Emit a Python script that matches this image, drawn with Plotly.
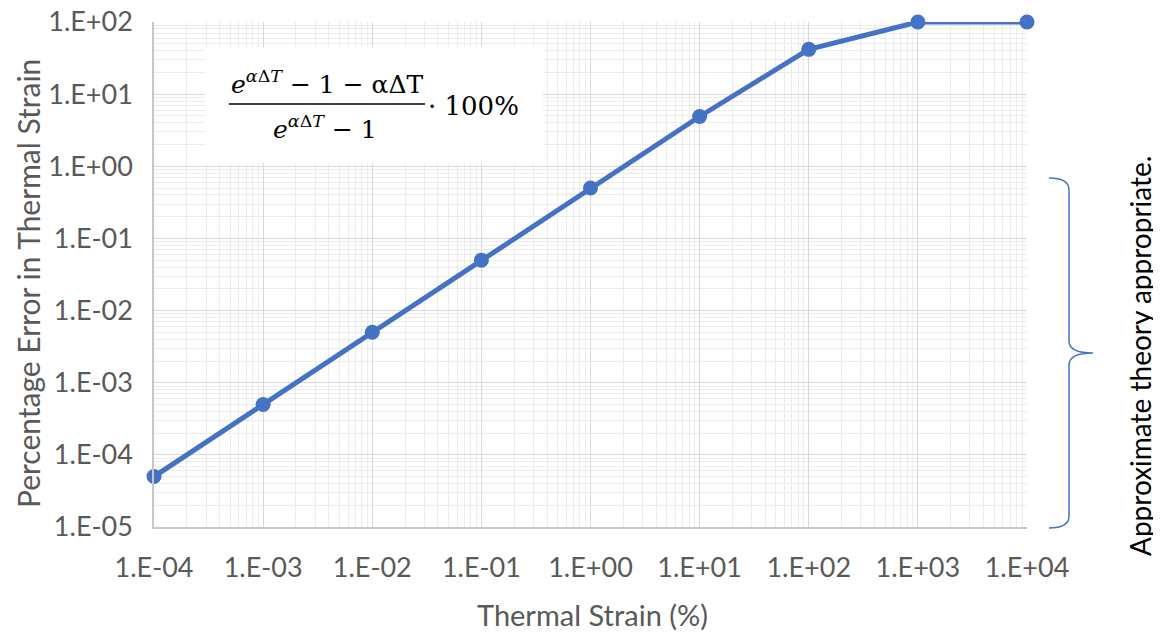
import plotly.graph_objects as go

# ---- data ----
strain_pct = [1e-4, 1e-3, 1e-2, 1e-1, 1e0, 1e1, 1e2, 1e3, 1e4]
error_pct = [5.0e-5, 5.0e-4, 5.0e-3, 5.0e-2, 0.5, 4.9, 41.8, 99.95, 100.0]
x_tickvals = [1e-4, 1e-3, 1e-2, 1e-1, 1e0, 1e1, 1e2, 1e3, 1e4]
x_ticktext = ["1.E-04", "1.E-03", "1.E-02", "1.E-01", "1.E+00", "1.E+01", "1.E+02", "1.E+03", "1.E+04"]
y_tickvals = [1e-5, 1e-4, 1e-3, 1e-2, 1e-1, 1e0, 1e1, 1e2]
y_ticktext = ["1.E-05", "1.E-04", "1.E-03", "1.E-02", "1.E-01", "1.E+00", "1.E+01", "1.E+02"]

OFF = 8  # page body margin
W, H = 1161 - OFF, 632 - OFF
# plot area, in screenshot pixels
SL, SR, ST, SB = 154, 1027, 22, 527
L, R, T, B = SL - OFF, SR - OFF, ST - OFF, SB - OFF


def px(x):
    """screenshot x pixel -> paper coordinate"""
    return (x - SL) / (SR - SL)


def py(y):
    """screenshot y pixel -> paper coordinate"""
    return (SB - y) / (SB - ST)


BLUE = "#4472c4"
GREY = "#595959"
FONT = "Lato"

fig = go.Figure()
fig.add_trace(go.Scatter(
    x=strain_pct, y=error_pct, mode="lines+markers",
    line=dict(color=BLUE, width=5),
    marker=dict(color=BLUE, size=15),
    cliponaxis=False, showlegend=False,
))

fig.update_layout(
    width=W, height=H,
    margin=dict(l=L, r=W - R, t=T, b=H - B, autoexpand=False),
    paper_bgcolor="white", plot_bgcolor="white",
    font=dict(family=FONT, color=GREY),
)

fig.update_xaxes(
    type="log", range=[-4, 4], automargin=False,
    tickvals=x_tickvals, ticktext=x_ticktext,
    tickfont=dict(size=27, color=GREY, family=FONT),
    ticklabeloverflow="allow",
    showgrid=True, gridcolor="#d9d9d9", gridwidth=1.3,
    minor=dict(dtick="D1", showgrid=True, gridcolor="#ececec", gridwidth=1),
    showline=True, linecolor="#c8c8c8", linewidth=1.5,
    zeroline=False, ticks="", ticklabelstandoff=16,
)
fig.update_yaxes(
    type="log", range=[-5, 2], automargin=False,
    tickvals=y_tickvals, ticktext=y_ticktext,
    tickfont=dict(size=27, color=GREY, family=FONT),
    ticklabeloverflow="allow",
    showgrid=True, gridcolor="#d9d9d9", gridwidth=1.3,
    minor=dict(dtick="D1", showgrid=True, gridcolor="#ececec", gridwidth=1),
    showline=True, linecolor="#c8c8c8", linewidth=1.5,
    zeroline=False, ticks="", ticklabelstandoff=14,
)

# axis titles
fig.add_annotation(xref="paper", yref="paper", x=px(592), y=py(614),
                   text="Thermal Strain (%)", showarrow=False,
                   font=dict(size=29, color=GREY, family=FONT),
                   xanchor="center", yanchor="middle")
fig.add_annotation(xref="paper", yref="paper", x=px(28), y=py(284),
                   text="Percentage Error in Thermal Strain", showarrow=False,
                   textangle=-90, font=dict(size=30, color=GREY, family=FONT),
                   xanchor="center", yanchor="middle")

# formula box
fig.add_shape(type="rect", xref="paper", yref="paper",
              x0=px(205), x1=px(543), y0=py(163), y1=py(47),
              fillcolor="white", line=dict(width=0), layer="above")
# fraction bar
fig.add_shape(type="line", xref="paper", yref="paper",
              x0=px(229), x1=px(425), y0=py(104), y1=py(104),
              line=dict(color="black", width=1.6), layer="above")

SERIF = "DejaVu Serif"
fig.add_annotation(xref="paper", yref="paper", x=px(327), y=py(82),
                   text="<i>e</i><sup><i>α</i>Δ<i>T</i></sup> − 1 − αΔT",
                   showarrow=False, font=dict(family=SERIF, size=25, color="black"),
                   xanchor="center", yanchor="middle")
fig.add_annotation(xref="paper", yref="paper", x=px(325), y=py(128),
                   text="<i>e</i><sup><i>α</i>Δ<i>T</i></sup> − 1",
                   showarrow=False, font=dict(family=SERIF, size=25, color="black"),
                   xanchor="center", yanchor="middle")
fig.add_annotation(xref="paper", yref="paper", x=px(426), y=py(106),
                   text="· 100%",
                   showarrow=False, font=dict(family=SERIF, size=26, color="black"),
                   xanchor="left", yanchor="middle")

# brace
pts = lambda x, y: f"{px(x):.5f},{py(y):.5f}"
brace = (f"M {pts(1049,178)} Q {pts(1069,178)} {pts(1069,190)} L {pts(1069,341)} "
         f"Q {pts(1069,353)} {pts(1093,353)} Q {pts(1069,353)} {pts(1069,365)} "
         f"L {pts(1069,516)} Q {pts(1069,528)} {pts(1049,528)}")
fig.add_shape(type="path", xref="paper", yref="paper", path=brace,
              line=dict(color=BLUE, width=1.5), layer="above")

fig.add_annotation(xref="paper", yref="paper", x=px(1140), y=py(356),
                   text="Approximate theory appropriate.", textangle=-90,
                   showarrow=False, font=dict(family=FONT, size=28, color="black"),
                   xanchor="center", yanchor="middle")

fig.write_html("out.html")
